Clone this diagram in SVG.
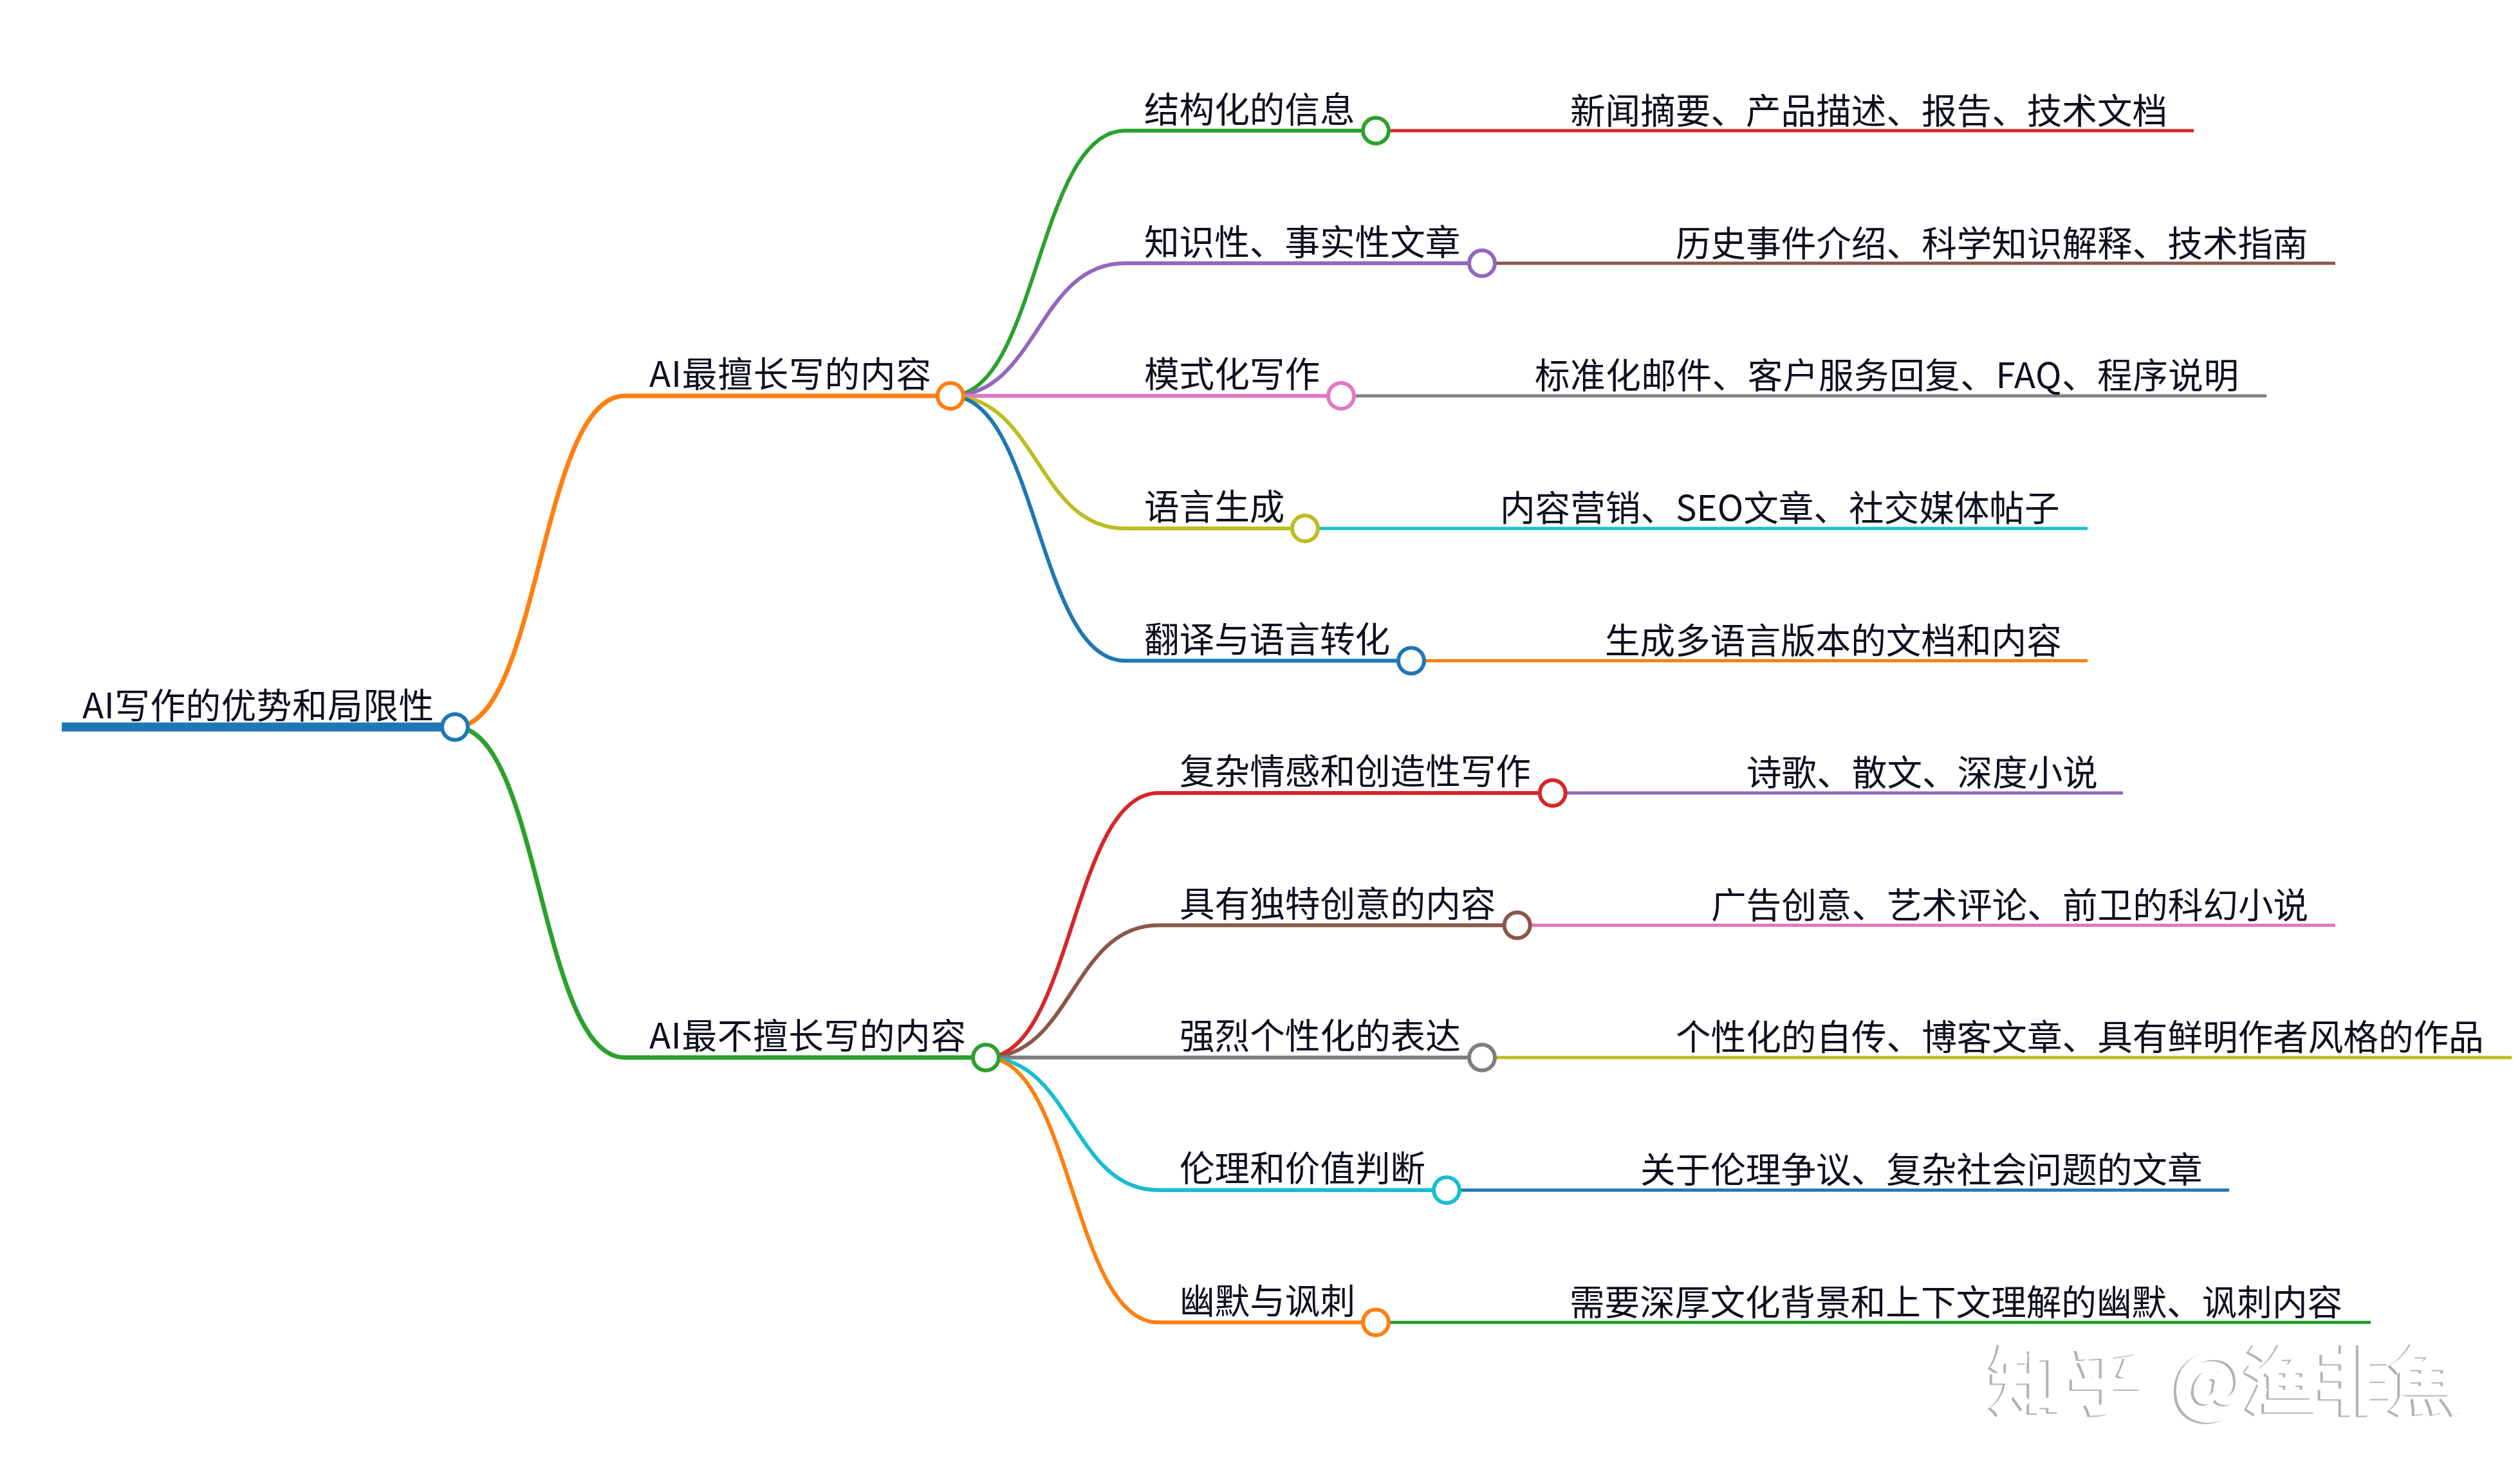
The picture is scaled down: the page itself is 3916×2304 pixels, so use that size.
<svg xmlns="http://www.w3.org/2000/svg" width="3916" height="2304" viewBox="0 0 3916 2304">
<style>
text{font-family:"Noto Sans CJK SC","Liberation Sans",sans-serif;font-size:54.6px;fill:#0b0f1e}
path,line{fill:none;stroke-linecap:butt}
circle{fill:#fff;stroke-width:6}
.a{stroke:#1f77b4}.b{stroke:#ff7f0e}.c{stroke:#2ca02c}.d{stroke:#d62728}.e{stroke:#9467bd}.f{stroke:#8c564b}.g{stroke:#e377c2}.h{stroke:#7f7f7f}.i{stroke:#bcbd22}.j{stroke:#17becf}
.l1{stroke-width:7}.l2{stroke-width:6}.l3{stroke-width:5}
.wm{font-size:115px;font-weight:700;fill:#b3b3b3;stroke:#b3b3b3;stroke-width:3}
</style>
<defs>
<filter id="cut" x="-5%" y="-20%" width="110%" height="140%"><feOffset in="SourceGraphic" dx="4" dy="-2" result="o"/><feComposite in="SourceGraphic" in2="o" operator="out"/></filter>
</defs>
<rect width="3916" height="2304" fill="#fff"/>
<g id="connectors">
<line class="a" x1="96" y1="1129.5" x2="690" y2="1129.5" stroke-width="14"/>
<path class="b l1" d="M707 1129.5C839 1129.5 839 615 971 615H1477"/>
<path class="c l1" d="M707 1129.5C839 1129.5 839 1643 971 1643H1532"/>
<path class="c l2" d="M1477 615C1612 615 1612 203 1748 203H2138"/>
<path class="e l2" d="M1477 615C1612 615 1612 409 1748 409H2303"/>
<path class="g l2" d="M1477 615H2084"/>
<path class="i l2" d="M1477 615C1612 615 1612 821 1748 821H2028"/>
<path class="a l2" d="M1477 615C1612 615 1612 1026.5 1748 1026.5H2193"/>
<path class="d l2" d="M1532 1643C1666 1643 1666 1232 1800 1232H2412.7"/>
<path class="f l2" d="M1532 1643C1666 1643 1666 1437.5 1800 1437.5H2357.7"/>
<path class="h l2" d="M1532 1643H2303"/>
<path class="j l2" d="M1532 1643C1666 1643 1666 1849 1800 1849H2248"/>
<path class="b l2" d="M1532 1643C1666 1643 1666 2054.5 1800 2054.5H2138"/>
<line class="d l3" x1="2138" y1="203" x2="3409" y2="203"/>
<line class="f l3" x1="2303" y1="409" x2="3629" y2="409"/>
<line class="h l3" x1="2084" y1="615" x2="3522" y2="615"/>
<line class="j l3" x1="2028" y1="821" x2="3244" y2="821"/>
<line class="b l3" x1="2193" y1="1026.5" x2="3244" y2="1026.5"/>
<line class="e l3" x1="2412.7" y1="1232" x2="3299" y2="1232"/>
<line class="g l3" x1="2357.7" y1="1437.5" x2="3629" y2="1437.5"/>
<line class="i l3" x1="2303" y1="1643" x2="3903" y2="1643"/>
<line class="a l3" x1="2248" y1="1849" x2="3464" y2="1849"/>
<line class="c l3" x1="2138" y1="2054.5" x2="3684" y2="2054.5"/>
</g>
<g id="n-root"><circle class="a" cx="707" cy="1129.5" r="20"/><text x="128" y="1116" textLength="546">AI写作的优势和局限性</text></g>
<g id="n-best"><circle class="b" cx="1477" cy="615" r="20"/><text x="1009" y="601" textLength="438">AI最擅长写的内容</text></g>
<g id="n-worst"><circle class="c" cx="1532" cy="1643" r="20"/><text x="1009" y="1629" textLength="492">AI最不擅长写的内容</text></g>
<g id="n1"><circle class="c" cx="2138" cy="203" r="20"/><text x="1778" y="190">结构化的信息</text></g>
<g id="n1t"><text x="2440" y="192">新闻摘要、产品描述、报告、技术文档</text></g>
<g id="n2"><circle class="e" cx="2303" cy="409" r="20"/><text x="1778" y="396">知识性、事实性文章</text></g>
<g id="n2t"><text x="2604" y="398">历史事件介绍、科学知识解释、技术指南</text></g>
<g id="n3"><circle class="g" cx="2084" cy="615" r="20"/><text x="1778" y="601">模式化写作</text></g>
<g id="n3t"><text x="2385" y="603" textLength="1094">标准化邮件、客户服务回复、FAQ、程序说明</text></g>
<g id="n4"><circle class="i" cx="2028" cy="821" r="20"/><text x="1778" y="807">语言生成</text></g>
<g id="n4t"><text x="2331" y="809">内容营销、SEO文章、社交媒体帖子</text></g>
<g id="n5"><circle class="a" cx="2193" cy="1026.5" r="20"/><text x="1778" y="1013">翻译与语言转化</text></g>
<g id="n5t"><text x="2494" y="1015">生成多语言版本的文档和内容</text></g>
<g id="n6"><circle class="d" cx="2412.7" cy="1232" r="20"/><text x="1833" y="1218">复杂情感和创造性写作</text></g>
<g id="n6t"><text x="2714" y="1220">诗歌、散文、深度小说</text></g>
<g id="n7"><circle class="f" cx="2357.7" cy="1437.5" r="20"/><text x="1833" y="1424">具有独特创意的内容</text></g>
<g id="n7t"><text x="2659" y="1426">广告创意、艺术评论、前卫的科幻小说</text></g>
<g id="n8"><circle class="h" cx="2303" cy="1643" r="20"/><text x="1833" y="1629">强烈个性化的表达</text></g>
<g id="n8t"><text x="2604" y="1631">个性化的自传、博客文章、具有鲜明作者风格的作品</text></g>
<g id="n9"><circle class="j" cx="2248" cy="1849" r="20"/><text x="1833" y="1835">伦理和价值判断</text></g>
<g id="n9t"><text x="2549" y="1837">关于伦理争议、复杂社会问题的文章</text></g>
<g id="n10"><circle class="b" cx="2138" cy="2054.5" r="20"/><text x="1833" y="2041">幽默与讽刺</text></g>
<g id="n10t"><text x="2439" y="2043">需要深厚文化背景和上下文理解的幽默、讽刺内容</text></g>
<text class="wm" x="3089 3212 3330 3373 3483 3598 3709" y="2189" filter="url(#cut)">知乎 @渔非魚</text>
</svg>
